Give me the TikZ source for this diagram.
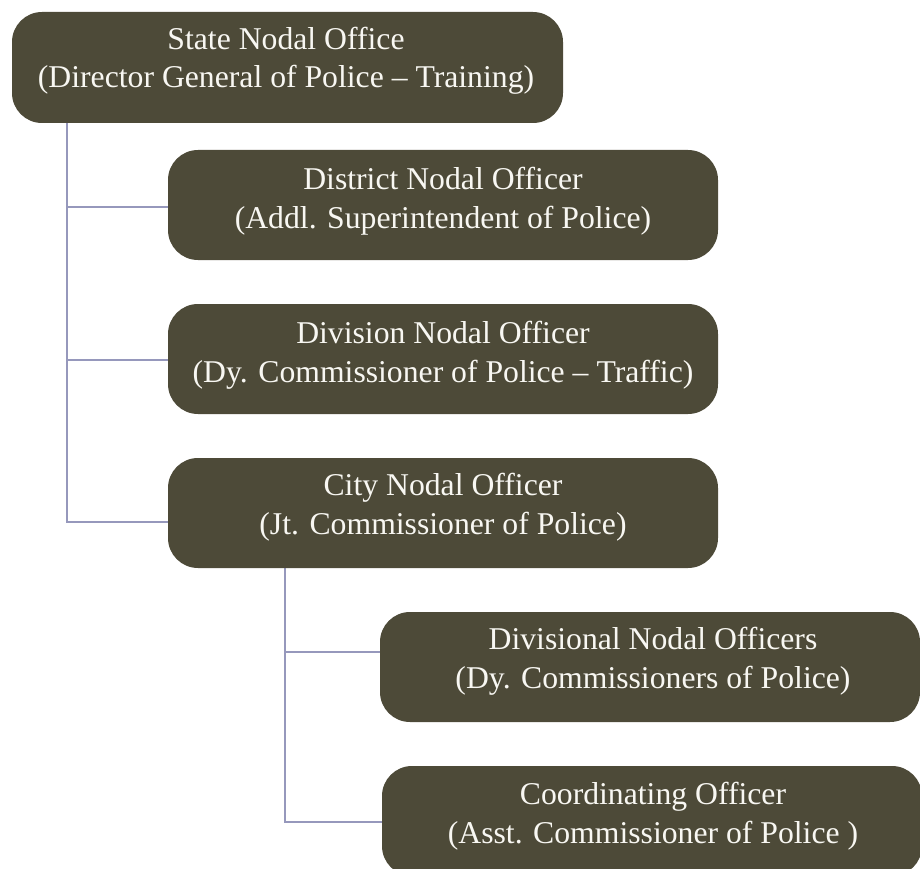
\documentclass[tikz,border=0pt]{standalone}
\usepackage{fontspec}
\setmainfont{Liberation Serif}
\usetikzlibrary{backgrounds}
\definecolor{boxfill}{RGB}{77,74,56}
\definecolor{txtcol}{RGB}{248,247,242}
\definecolor{lineout}{RGB}{82,85,125}
\definecolor{linein}{RGB}{150,152,188}
\tikzset{
  orgbox/.style={rectangle, rounded corners=30pt, fill=boxfill, draw=none, inner sep=0pt},
  orgtxt/.style={text=txtcol, align=center, inner sep=0pt, anchor=base,
    font=\fontsize{31.7}{38.5}\selectfont},
  conn/.style={draw=lineout, double=linein, line width=0.9pt, double distance=1.1pt}
}
\begin{document}
\begin{tikzpicture}[x=1pt,y=-1pt]
\useasboundingbox (0,0) rectangle (920,869);
\coordinate (v1) at (67,123);
\coordinate (v2) at (285,568);
\node[orgbox, minimum width=551pt, minimum height=111pt] (b1) at (287.5,67.5) {};
\node[orgbox, minimum width=550pt, minimum height=110pt] (b2) at (443,205) {};
\node[orgbox, minimum width=550pt, minimum height=110pt] (b3) at (443,359) {};
\node[orgbox, minimum width=550pt, minimum height=110pt] (b4) at (443,513) {};
\node[orgbox, minimum width=540pt, minimum height=110pt] (b5) at (650,667) {};
\node[orgbox, minimum width=540pt, minimum height=110pt] (b6) at (652,821) {};
\begin{scope}[on background layer]
\draw[conn] (v1) |- ([yshift=-2pt]b2.west);
\draw[conn] (v1) |- ([yshift=-1pt]b3.west);
\draw[conn] (v1) |- ([yshift=-9pt]b4.west);
\draw[conn] (v2) |- ([yshift=15pt,xshift=3pt]b5.west);
\draw[conn] (v2) |- ([yshift=-1pt]b6.west);
\end{scope}
\node[orgtxt] (t1) at (286,88) {State Nodal Office\\(Director General of Police -- Training)};
\node[orgtxt] (t2) at (443,228) {District Nodal Officer\\(Addl. Superintendent of Police)};
\node[orgtxt] (t3) at (443,382) {Division Nodal Officer\\(Dy. Commissioner of Police -- Traffic)};
\node[orgtxt] (t4) at (443,534) {City Nodal Officer\\(Jt. Commissioner of Police)};
\node[orgtxt] (t5) at (653,688) {Divisional Nodal Officers\\(Dy. Commissioners of Police)};
\node[orgtxt] (t6) at (653,843) {Coordinating Officer\\(Asst. Commissioner of Police )};
\end{tikzpicture}
\end{document}
